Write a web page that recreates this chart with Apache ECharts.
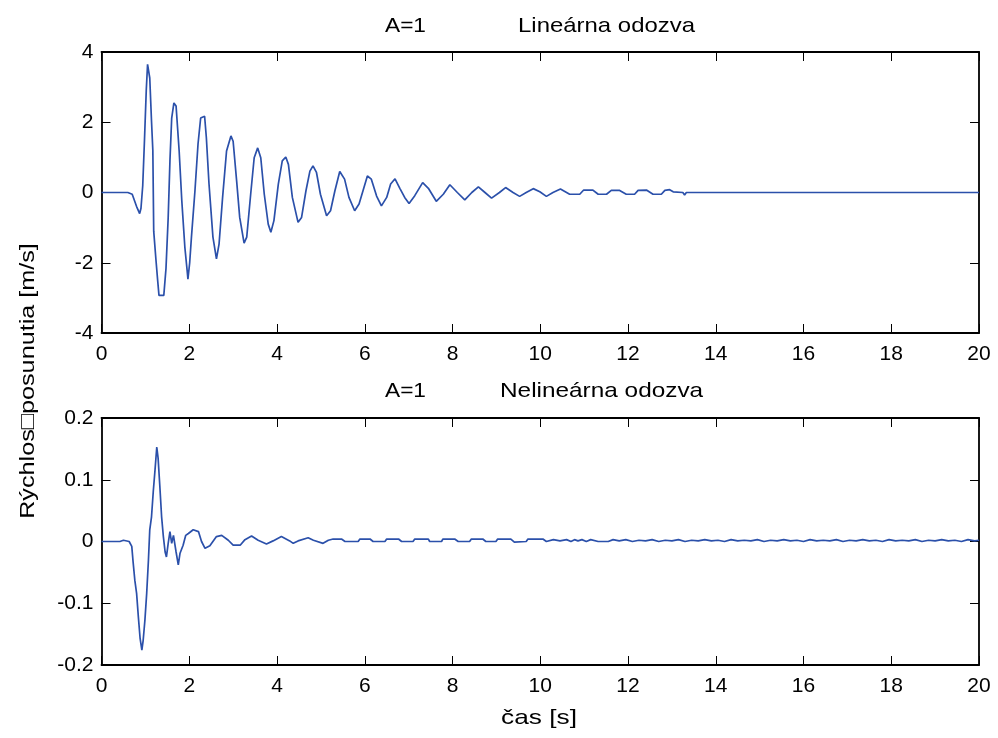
<!DOCTYPE html>
<html>
<head>
<meta charset="utf-8">
<script src="https://cdn.jsdelivr.net/npm/echarts@6/dist/echarts.min.js"></script>
<style>html,body{margin:0;padding:0;background:#fff;}#c{width:998px;height:738px;}</style>
</head>
<body>
<div id="c"></div>
<script>
// ---- Data ----
var xTicks = [0, 2, 4, 6, 8, 10, 12, 14, 16, 18, 20];
var yTicksTop = [-4, -2, 0, 2, 4];
var yTicksBottom = [-0.2, -0.1, 0, 0.1, 0.2];

var titleTopA = 'A=1';
var titleTopB = 'Lineárna odozva';
var titleBotA = 'A=1';
var titleBotB = 'Nelineárna odozva';
var yLabel = 'Rýchlos\u25A1posunutia [m/s]';
var xLabel = 'čas [s]';

// Linear response: time [s]
var tLin = [0, 0.6, 0.7, 0.8, 0.87, 0.9, 0.94, 0.98, 1.02, 1.05, 1.07, 1.10, 1.14, 1.17, 1.19, 1.24, 1.28, 1.31, 1.42, 1.45,
  1.47, 1.52, 1.56, 1.60, 1.65, 1.70, 1.77, 1.83, 1.90, 1.95, 1.97, 2.01, 2.05, 2.13, 2.20, 2.26, 2.28, 2.35, 2.39, 2.45,
  2.54, 2.62, 2.68, 2.76, 2.85, 2.95, 3.00, 3.08, 3.15, 3.25, 3.31, 3.40, 3.48, 3.56, 3.63, 3.71, 3.80, 3.86, 3.93, 4.03,
  4.12, 4.20, 4.26, 4.35, 4.48, 4.56, 4.66, 4.75, 4.82, 4.90, 4.99, 5.13, 5.22, 5.32, 5.43, 5.54, 5.64, 5.77, 5.87, 5.96,
  6.06, 6.15, 6.27, 6.38, 6.50, 6.59, 6.69, 6.80, 6.91, 7.01, 7.14, 7.32, 7.45, 7.63, 7.79, 7.94, 8.11, 8.28, 8.44, 8.59,
  8.74, 8.89, 9.07, 9.21, 9.38, 9.53, 9.68, 9.84, 9.99, 10.14, 10.29, 10.46, 10.60, 10.67, 10.90, 10.99, 11.20, 11.32, 11.51, 11.62,
  11.81, 11.96, 12.15, 12.23, 12.42, 12.57, 12.76, 12.84, 12.95, 13.03, 13.25, 13.29, 13.33, 20];
// Linear response: velocity [m/s]
var vLin = [0, 0, -0.05, -0.4, -0.6, -0.45, 0.2, 1.5, 2.9, 3.65, 3.7, 3.26, 2.03, 1.2, -1.1, -1.9, -2.5, -2.93, -2.93, -2.9,
  -2.16, -0.71, 0.9, 2.12, 2.55, 2.46, 1.18, -0.23, -1.56, -2.2, -2.47, -2.0, -1.27, 0.05, 1.38, 2.12, 2.17, 2.17, 1.56, 0.25,
  -1.27, -1.89, -1.46, -0.14, 1.18, 1.61, 1.46, 0.33, -0.71, -1.44, -1.27, -0.05, 0.99, 1.27, 0.99, -0.05, -0.9, -1.13, -0.8, 0.24,
  0.9, 1.01, 0.8, -0.14, -0.85, -0.71, 0.05, 0.61, 0.76, 0.57, -0.05, -0.66, -0.52, 0.05, 0.6, 0.38, -0.14, -0.52, -0.33, 0.05,
  0.47, 0.38, -0.1, -0.38, -0.14, 0.24, 0.39, 0.12, -0.14, -0.31, -0.09, 0.28, 0.12, -0.25, -0.05, 0.22, 0.0, -0.21, 0.0, 0.16,
  0.0, -0.16, 0.0, 0.14, 0.0, -0.11, 0.0, 0.11, 0.02, -0.11, 0.0, 0.1, 0.0, -0.05, -0.05, 0.07, 0.07, -0.05, -0.05, 0.06,
  0.06, -0.05, -0.05, 0.06, 0.07, -0.05, -0.05, 0.06, 0.08, 0.02, 0.0, -0.07, 0.0, 0];

// Nonlinear response: time [s]
var tNon = [0, 0.42, 0.44, 0.5, 0.52, 0.63, 0.69, 0.72, 0.76, 0.80, 0.84, 0.88, 0.92, 0.95, 0.99, 1.03, 1.07, 1.10, 1.14, 1.18,
  1.22, 1.26, 1.29, 1.33, 1.37, 1.41, 1.45, 1.48, 1.52, 1.56, 1.60, 1.64, 1.70, 1.75, 1.79, 1.86, 1.92, 1.98, 2.09, 2.21,
  2.28, 2.36, 2.47, 2.62, 2.74, 2.89, 3.00, 3.16, 3.27, 3.42, 3.57, 3.76, 3.91, 4.10, 4.29, 4.37, 4.48, 4.71, 4.83, 5.05,
  5.17, 5.28, 5.47, 5.55, 5.85, 5.89, 6.12, 6.19, 6.46, 6.50, 6.77, 6.84, 7.10, 7.14, 7.45, 7.48, 7.75, 7.78, 8.05, 8.13,
  8.39, 8.43, 8.69, 8.76, 8.99, 9.03, 9.33, 9.41, 9.68, 9.72, 10.06, 10.14, 10.30, 10.45, 10.60, 10.70, 10.78, 10.86, 10.95, 11.05,
  11.15, 11.32, 11.55, 11.66, 11.80, 11.95, 12.10, 12.25, 12.40, 12.55, 12.70, 12.85, 13.00, 13.15, 13.30, 13.45, 13.60, 13.75, 13.90, 14.05,
  14.20, 14.35, 14.50, 14.65, 14.80, 14.95, 15.10, 15.25, 15.40, 15.55, 15.70, 15.85, 16.00, 16.15, 16.30, 16.45, 16.60, 16.75, 16.90, 17.05,
  17.20, 17.35, 17.50, 17.65, 17.80, 17.95, 18.10, 18.25, 18.40, 18.55, 18.70, 18.85, 19.00, 19.15, 19.30, 19.45, 19.60, 19.75, 19.90, 20];
// Nonlinear response: velocity [m/s]
var vNon = [0, 0, 0.002, 0.002, 0, 0, -0.008, -0.033, -0.063, -0.084, -0.122, -0.157, -0.176, -0.16, -0.127, -0.084, -0.03, 0.019, 0.04, 0.081,
  0.116, 0.153, 0.135, 0.089, 0.04, 0.008, -0.017, -0.025, -0.003, 0.016, -0.003, 0.01, -0.017, -0.038, -0.019, -0.006, 0.01, 0.013, 0.019, 0.016,
  0, -0.011, -0.007, 0.008, 0.01, 0.002, -0.006, -0.006, 0.003, 0.009, 0.002, -0.004, 0.001, 0.008, 0.001, -0.003, 0.001, 0.006, 0.002, -0.003,
  0.002, 0.004, 0.004, 0, 0, 0.004, 0.004, 0, 0, 0.004, 0.004, 0, 0, 0.004, 0.004, 0, 0, 0.004, 0.004, 0,
  0, 0.004, 0.004, 0, 0, 0.004, 0.004, -0.001, 0, 0.004, 0.004, 0, 0.003, 0.001, 0.003, 0.0, 0.003, 0.001, 0.003, 0.0,
  0.003, 0, 0, 0.003, 0.001, 0.003, 0.0, 0.002, 0.001, 0.003, 0.0, 0.002, 0.001, 0.003, 0.0, 0.002, 0.001, 0.003, 0.001, 0.002,
  0.0, 0.003, 0.001, 0.002, 0.001, 0.003, 0.0, 0.002, 0.001, 0.003, 0.001, 0.002, 0.0, 0.003, 0.001, 0.002, 0.001, 0.003, 0.0, 0.002,
  0.001, 0.003, 0.001, 0.002, 0.0, 0.003, 0.001, 0.002, 0.001, 0.003, 0.0, 0.002, 0.001, 0.003, 0.001, 0.002, 0.0, 0.003, 0.001, 0.002];

// ---- Chart ----
var FONT = '"Liberation Sans", Arial, Helvetica, sans-serif';
var LINE_COLOR = '#2b50aa';
function zip(a, b) { return a.map(function (v, i) { return [v, b[i]]; }); }
function fmt(v) { return String(Math.round(v * 1000) / 1000); }

var axisLine = { show: true, onZero: false, lineStyle: { color: '#000', width: 1.8 } };
var tickIn = { show: true, inside: true, length: 9, lineStyle: { color: '#000', width: 1 } };
var lbl = { color: '#000', fontSize: 21, fontFamily: FONT };

function xAx(grid, pos, showLabel) {
  return {
    type: 'value', gridIndex: grid, position: pos, min: xTicks[0], max: xTicks[xTicks.length - 1],
    interval: xTicks[1] - xTicks[0], axisLine: axisLine, axisTick: tickIn, splitLine: { show: false },
    axisLabel: showLabel ? Object.assign({ margin: 11, formatter: fmt }, lbl) : { show: false }
  };
}
function yAx(grid, pos, ticks, showLabel) {
  return {
    type: 'value', gridIndex: grid, position: pos, min: ticks[0], max: ticks[ticks.length - 1],
    interval: Math.round((ticks[1] - ticks[0]) * 1000) / 1000, axisLine: axisLine, axisTick: tickIn, splitLine: { show: false },
    axisLabel: showLabel ? Object.assign({ margin: 8, formatter: fmt }, lbl) : { show: false }
  };
}
function txt(text, x, y, sx, align, rot) {
  return {
    type: 'text', x: x, y: y, scaleX: sx, scaleY: 1, rotation: rot || 0, silent: true,
    style: { text: text, fill: '#000', font: '21px ' + FONT, textAlign: align, textVerticalAlign: 'middle' }
  };
}

var chart = echarts.init(document.getElementById('c'), null, { renderer: 'canvas' });
chart.setOption({
  animation: false,
  backgroundColor: '#fff',
  grid: [
    { left: 101.5, right: 19, top: 52, height: 281 },
    { left: 101.5, right: 19, top: 418, height: 247 }
  ],
  xAxis: [
    xAx(0, 'bottom', true),
    xAx(0, 'top', false),
    xAx(1, 'bottom', true),
    xAx(1, 'top', false)
  ],
  yAxis: [
    yAx(0, 'left', yTicksTop, true),
    yAx(0, 'right', yTicksTop, false),
    yAx(1, 'left', yTicksBottom, true),
    yAx(1, 'right', yTicksBottom, false)
  ],
  graphic: [
    txt(titleTopA, 385, 26, 1.08, 'left'),
    txt(titleTopB, 518, 26, 1.14, 'left'),
    txt(titleBotA, 385, 391, 1.08, 'left'),
    txt(titleBotB, 500, 391, 1.16, 'left'),
    txt(xLabel, 539, 718, 1.25, 'center'),
    txt(yLabel, 28, 381, 1.2, 'center', Math.PI / 2)
  ],
  series: [
    { type: 'line', xAxisIndex: 0, yAxisIndex: 0, data: zip(tLin, vLin), showSymbol: false,
      lineStyle: { color: LINE_COLOR, width: 1.7 }, itemStyle: { color: LINE_COLOR } },
    { type: 'line', xAxisIndex: 2, yAxisIndex: 2, data: zip(tNon, vNon), showSymbol: false,
      lineStyle: { color: LINE_COLOR, width: 1.7 }, itemStyle: { color: LINE_COLOR } }
  ]
});
</script>
</body>
</html>
